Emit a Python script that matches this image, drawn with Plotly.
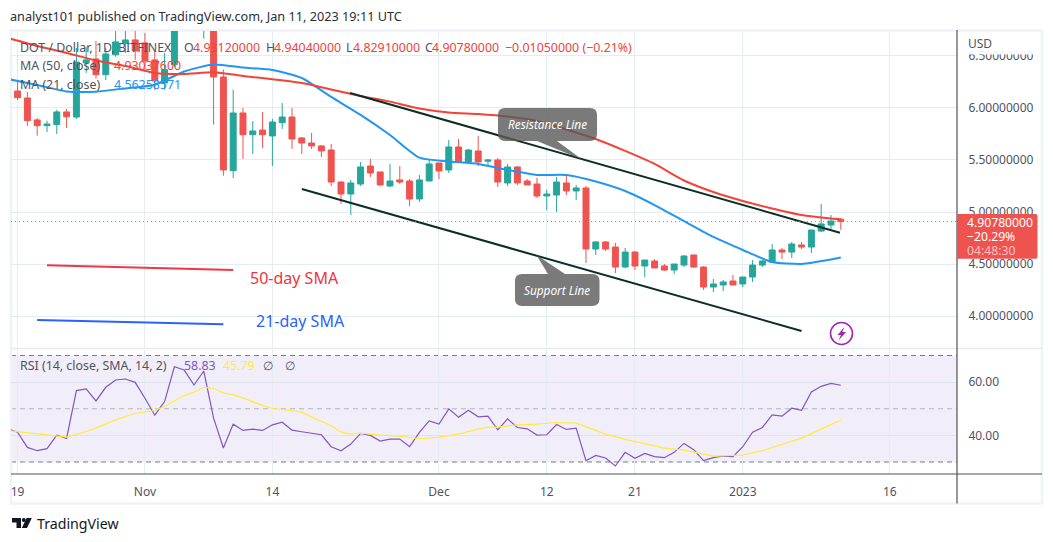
import pandas as pd
import plotly.graph_objects as go

W, H = 1053, 542

# ---- data -------------------------------------------------------------
DATES = pd.date_range("2022-10-18", periods=86)
CANDLE_DATES = DATES[1:]

OPEN = [6.163,6.096,5.885,5.830,5.840,5.962,5.913,6.433,6.471,6.320,6.512,6.625,6.654,6.625,6.462,6.240,6.416,
        6.90,7.05,6.95,7.00,6.298,5.397,5.952,5.743,5.788,5.731,5.859,5.913,5.712,5.663,5.635,5.596,5.288,5.173,
        5.269,5.442,5.385,5.25,5.308,5.298,5.125,5.298,5.471,5.404,5.625,5.481,5.587,5.488,5.5,5.279,5.433,5.298,
        5.269,5.154,5.163,5.279,5.202,5.231,4.644,4.712,4.663,4.471,4.615,4.481,4.529,4.481,4.442,4.49,4.587,4.471,
        4.279,4.298,4.337,4.308,4.375,4.49,4.519,4.635,4.615,4.683,4.663,4.817,4.875,4.9312]
HIGH = [6.260,6.154,5.904,5.878,5.983,5.990,6.577,6.587,6.644,6.577,6.80,6.80,6.80,6.721,6.548,6.529,7.0,
        7.10,7.25,7.30,7.20,6.368,6.176,6.0,5.875,5.962,5.894,6.048,6.0,5.721,5.760,5.644,5.654,5.298,5.308,
        5.481,5.510,5.385,5.462,5.442,5.317,5.356,5.510,5.471,5.692,5.702,5.606,5.731,5.510,5.519,5.462,5.442,5.317,
        5.327,5.212,5.337,5.356,5.26,5.25,4.721,4.721,4.702,4.654,4.625,4.538,4.548,4.5,4.5,4.587,4.587,4.481,
        4.356,4.346,4.394,4.375,4.538,4.538,4.692,4.654,4.712,4.712,4.827,5.077,4.971,4.9404]
LOW = [6.077,5.827,5.734,5.769,5.75,5.808,5.894,6.337,6.282,6.269,6.493,6.529,6.462,6.356,6.173,6.176,6.394,
       6.80,6.85,6.666,5.840,5.349,5.327,5.510,5.558,5.615,5.442,5.798,5.606,5.558,5.606,5.529,5.25,5.077,4.971,
       5.25,5.337,5.25,5.24,5.269,5.058,5.096,5.298,5.317,5.375,5.481,5.481,5.442,5.442,5.24,5.25,5.26,5.26,
       5.135,5.019,5.0,5.163,5.115,4.51,4.587,4.625,4.413,4.462,4.442,4.375,4.462,4.433,4.404,4.471,4.462,4.25,
       4.231,4.24,4.298,4.279,4.327,4.471,4.519,4.548,4.558,4.644,4.606,4.808,4.837,4.8291]
CLOSE = [6.099,5.878,5.830,5.846,5.962,5.916,6.442,6.462,6.320,6.519,6.635,6.654,6.548,6.452,6.260,6.368,6.90,
         7.05,7.00,7.20,6.298,5.404,5.952,5.743,5.779,5.743,5.865,5.913,5.702,5.663,5.635,5.587,5.288,5.173,5.279,
         5.433,5.375,5.26,5.298,5.288,5.125,5.308,5.462,5.394,5.625,5.481,5.596,5.481,5.5,5.288,5.433,5.279,5.26,
         5.154,5.173,5.288,5.202,5.231,4.644,4.712,4.644,4.471,4.615,4.481,4.538,4.462,4.442,4.5,4.577,4.471,4.279,
         4.308,4.327,4.298,4.375,4.49,4.529,4.635,4.615,4.692,4.663,4.827,4.885,4.913,4.9078]

MA_DATES = list(DATES[::3]) + [DATES[-1]]
MA50 = [6.673,6.596,6.529,6.457,6.404,6.337,6.327,6.343,6.308,6.276,6.240,6.178,6.115,6.061,5.995,5.957,5.942,
        5.918,5.875,5.793,5.702,5.587,5.462,5.303,5.192,5.106,5.034,4.971,4.938,4.9304]
MA21 = [6.279,6.221,6.159,6.157,6.188,6.224,6.351,6.418,6.389,6.365,6.288,6.106,5.933,5.740,5.522,5.486,5.462,
        5.404,5.356,5.356,5.293,5.202,5.067,4.913,4.76,4.635,4.519,4.5,4.543,4.5626]

RSI = [42.47,41.22,35.49,34.24,34.99,40.10,38.85,56.81,57.43,52.94,58.06,60.80,61.18,59.93,53.94,47.58,52.70,
       65.79,64.54,58.93,64.17,46.46,35.24,44.22,41.85,42.35,41.85,43.97,44.96,41.97,41.35,40.85,40.23,35.74,34.24,
       36.73,40.72,39.98,37.86,38.60,38.60,35.74,41.10,45.46,44.22,49.95,46.83,49.45,46.96,47.21,42.10,46.21,42.97,
       42.47,40.10,40.23,44.09,42.22,42.72,30.50,32.49,31.50,28.50,33.62,31.37,33.24,32.00,31.62,33.62,36.98,34.61,
       30.50,31.62,32.24,32.00,35.74,41.22,42.97,47.71,47.21,50.20,49.45,56.31,58.43,59.55,58.83]
RSI_SMA_DAYS = [0,3,5,6,8,9,11,13,15,16,18,19,20,21,22,23,24,26,27,28,30,31,33,34,35,36,38,40,42,44,46,48,49,50,
                52,54,56,58,61,63,65,67,69,71,72,74,75,77,79,81,83,85]
RSI_SMA = [41.85,40.47,39.73,39.35,41.47,42.72,45.84,48.21,49.33,50.82,54.94,56.19,58.06,57.68,55.94,55.19,54.07,
           51.20,50.20,49.70,48.71,46.96,43.59,41.22,40.47,40.85,40.10,39.73,38.73,39.35,40.47,42.35,43.09,43.09,
           43.97,44.22,44.84,44.59,40.47,38.48,36.98,35.24,34.49,32.99,32.24,32.49,32.62,34.24,36.48,38.98,42.35,45.79]

RESIST_X = ["2022-11-21 22:00", "2023-01-10 22:00"]
RESIST_Y = [6.144, 4.801]
SUPPORT_X = ["2022-11-17 00:00", "2023-01-07 00:00"]
SUPPORT_Y = [5.221, 3.856]
SMA50_KEY_X = ["2022-10-22 00:00", "2022-11-10 00:00"]
SMA50_KEY_Y = [4.4875, 4.442]
SMA21_KEY_X = ["2022-10-21 00:00", "2022-11-09 00:00"]
SMA21_KEY_Y = [3.962, 3.920]

TICK_DATES = ["2022-10-19", "2022-11-01", "2022-11-14", "2022-12-01", "2022-12-12", "2022-12-21", "2023-01-01", "2023-01-16"]
TICK_TEXT = ["19", "Nov", "14", "Dec", "12", "21", "2023", "16"]
PRICE_TICKS = [4.0, 4.5, 5.0, 5.5, 6.0, 6.5]
RSI_TICKS = [40, 60]
LAST_PRICE = 4.9078

# ---- style ------------------------------------------------------------
FONT = "Noto Sans"
GREEN, RED = "#26a69a", "#ef5350"
GRID = "#e6ecf3"
TXT = "#50535e"
AXIS = "#50535e"
LINE_DARK = "#0b2f26"

def px(x): return x / W
def py(y): return 1 - y / H

def path(cmds):
    out = []
    for c in cmds:
        if c == "Z":
            out.append("Z")
        else:
            op, *pts = c
            out.append(op + " ".join(f"{px(pts[i]):.5f},{py(pts[i+1]):.5f}" for i in range(0, len(pts), 2)))
    return " ".join(out)

fig = go.Figure()

# candles, moving averages, drawings
fig.add_trace(go.Candlestick(
    x=CANDLE_DATES, open=OPEN, high=HIGH, low=LOW, close=CLOSE,
    increasing=dict(line=dict(color=GREEN, width=1), fillcolor=GREEN),
    decreasing=dict(line=dict(color=RED, width=1), fillcolor=RED),
    whiskerwidth=0, xaxis="x", yaxis="y", showlegend=False))
fig.add_trace(go.Scatter(x=MA_DATES, y=MA21, mode="lines", line=dict(color="#2196f3", width=2, shape="spline", smoothing=0.6),
                         xaxis="x", yaxis="y", showlegend=False))
fig.add_trace(go.Scatter(x=MA_DATES, y=MA50, mode="lines", line=dict(color="#f44336", width=2, shape="spline", smoothing=0.6),
                         xaxis="x", yaxis="y", showlegend=False))
for xs, ys, col in [(RESIST_X, RESIST_Y, LINE_DARK), (SUPPORT_X, SUPPORT_Y, LINE_DARK),
                    (SMA50_KEY_X, SMA50_KEY_Y, "#f23645"), (SMA21_KEY_X, SMA21_KEY_Y, "#2962ff")]:
    fig.add_trace(go.Scatter(x=xs, y=ys, mode="lines", line=dict(color=col, width=2), xaxis="x", yaxis="y", showlegend=False))

# RSI pane
fig.add_trace(go.Scatter(x=DATES, y=RSI, mode="lines", line=dict(color="#7e57c2", width=1.2),
                         xaxis="x2", yaxis="y2", showlegend=False))
fig.add_trace(go.Scatter(x=[DATES[i] for i in RSI_SMA_DAYS], y=RSI_SMA, mode="lines", line=dict(color="#ffeb3b", width=1.2),
                         xaxis="x2", yaxis="y2", showlegend=False))

X_RANGE = ["2022-10-18 07:51", "2023-01-22 20:38"]
X_DOM = [px(11), px(957)]

shapes = [
    dict(type="rect", xref="x2 domain", yref="y2", x0=0, x1=1, y0=30, y1=70, fillcolor="rgba(126,87,194,0.10)", line_width=0, layer="below"),
    dict(type="line", xref="x2 domain", yref="y2", x0=0, x1=1, y0=70, y1=70, line=dict(color="#787b86", width=1, dash="5px,4px"), layer="below"),
    dict(type="line", xref="x2 domain", yref="y2", x0=0, x1=1, y0=50, y1=50, line=dict(color="#b2b4bb", width=1, dash="5px,4px"), layer="below"),
    dict(type="line", xref="x2 domain", yref="y2", x0=0, x1=1, y0=30, y1=30, line=dict(color="#787b86", width=1, dash="5px,4px"), layer="below"),
    dict(type="line", xref="x domain", yref="y", x0=0, x1=1, y0=LAST_PRICE, y1=LAST_PRICE, line=dict(color="#f5626a", width=1, dash="1px,3px"), layer="above"),
    # frame and axis lines
    dict(type="rect", xref="paper", yref="paper", x0=px(11), x1=px(1042), y0=py(30.5), y1=py(503.5), line=dict(color="#eff2f8", width=2.5), layer="below"),
    dict(type="line", xref="paper", yref="paper", x0=px(11), x1=px(1042), y0=py(348.5), y1=py(348.5), line=dict(color="#e6e9ef", width=1.5), layer="below"),
    dict(type="line", xref="paper", yref="paper", x0=px(11), x1=px(1042), y0=py(474), y1=py(474), line=dict(color=AXIS, width=1.2), layer="above"),
    dict(type="line", xref="paper", yref="paper", x0=px(957), x1=px(957), y0=py(30), y1=py(503.5), line=dict(color=AXIS, width=1.2), layer="above"),
    # hide the top of the 6.5 label under the USD header
    dict(type="rect", xref="paper", yref="paper", x0=px(958), x1=px(1040), y0=py(32), y1=py(54.5), fillcolor="rgba(255,255,255,0.9)", line_width=0, layer="above"),
    # last price tag
    dict(type="path", xref="paper", yref="paper", layer="above", fillcolor=RED, line_width=0,
         path=path([("M", 957, 214), ("L", 1035.5, 214), ("Q", 1037.5, 214, 1037.5, 216), ("L", 1037.5, 256.7),
                    ("Q", 1037.5, 258.7, 1035.5, 258.7), ("L", 957, 258.7), "Z"])),
    # call-outs
    dict(type="path", xref="paper", yref="paper", layer="above", fillcolor="rgba(89,89,89,0.8)", line_width=0,
         path=path([("M", 505, 108), ("L", 590, 108), ("Q", 597, 108, 597, 115), ("L", 597, 134), ("Q", 597, 141, 590, 141),
                    ("L", 557, 141), ("L", 582, 159.5), ("L", 537, 141), ("L", 505, 141), ("Q", 498, 141, 498, 134),
                    ("L", 498, 115), ("Q", 498, 108, 505, 108), "Z"])),
    dict(type="path", xref="paper", yref="paper", layer="above", fillcolor="rgba(89,89,89,0.8)", line_width=0,
         path=path([("M", 522, 274), ("L", 548, 274), ("L", 536.5, 255), ("L", 565, 274), ("L", 592, 274), ("Q", 599.5, 274, 599.5, 281),
                    ("L", 599.5, 299), ("Q", 599.5, 306, 592, 306), ("L", 522, 306), ("Q", 515, 306, 515, 299),
                    ("L", 515, 281), ("Q", 515, 274, 522, 274), "Z"])),
    # bolt badge
    dict(type="circle", xref="paper", yref="paper", x0=px(830.5), x1=px(852.5), y0=py(322.5), y1=py(344.5), line=dict(color="#9c27b0", width=1.6), layer="above"),
    dict(type="path", xref="paper", yref="paper", layer="above", fillcolor="#9c27b0", line_width=0,
         path=path([("M", 844.5, 327), ("L", 837.5, 335), ("L", 841, 335), ("L", 838.5, 340.5), ("L", 846, 332), ("L", 842.3, 332), "Z"])),
    # TradingView mark
    dict(type="path", xref="paper", yref="paper", layer="above", fillcolor="#131722", line_width=0,
         path=path([("M", 12, 518), ("L", 21, 518), ("L", 21, 528), ("L", 16.5, 528), ("L", 16.5, 522.5), ("L", 12, 522.5), "Z"])),
    dict(type="circle", xref="paper", yref="paper", x0=px(21.8), x1=px(25.8), y0=py(518), y1=py(522), fillcolor="#131722", line_width=0, layer="above"),
    dict(type="path", xref="paper", yref="paper", layer="above", fillcolor="#131722", line_width=0,
         path=path([("M", 31.8, 518), ("L", 27, 528), ("L", 21.8, 528), ("L", 26.6, 518), "Z"])),
]

def note(x, y, text, color=TXT, size=12.4, anchor="left", italic=False):
    t = f"<i>{text}</i>" if italic else text
    return dict(xref="paper", yref="paper", x=px(x), y=py(y), text=t, showarrow=False, xanchor=anchor, yanchor="middle",
                xshift=0, align="left", font=dict(family=FONT, size=size, color=color), borderpad=0, borderwidth=0)

VAL = "#f23f3a"
annotations = [
    note(10, 16.5, "analyst101 published on TradingView.com, Jan 11, 2023 19:11 UTC", "#2a2e39", 12.7),
    note(20, 47, "DOT / Dollar, 1D, BITFINEX"),
    note(184, 47, "O"), note(193, 47, "4.93120000", VAL),
    note(266, 47, "H"), note(274, 47, "4.94040000", VAL),
    note(346, 47, "L"), note(353, 47, "4.82910000", VAL),
    note(425, 47, "C"), note(432, 47, "4.90780000", VAL),
    note(505, 47, "\u22120.01050000 (\u22120.21%)", VAL),
    note(20, 65.7, "MA (50, close)"), note(114, 65.7, "4.93037600", VAL),
    note(20, 84.7, "MA (21, close)"), note(114, 84.7, "4.56258571", "#2196f3"),
    note(20, 365.7, "RSI (14, close, SMA, 14, 2)"),
    note(184, 365.7, "58.83", "#7e57c2"), note(223, 365.7, "45.79", "#ffeb3b"),
    note(263, 365.7, "\u2205"), note(285, 365.7, "\u2205"),
    note(968, 43, "USD", TXT, 12),
    note(967, 222, "4.90780000", "#ffffff", 12.2), note(967, 236.5, "\u221220.29%", "#ffffff", 12.2),
    note(967, 250.5, "04:48:30", "rgba(255,255,255,0.65)", 12.2),
    note(547.5, 124.5, "Resistance Line", "#ffffff", 11.8, "center", True),
    note(557, 290, "Support Line", "#ffffff", 11.8, "center", True),
    note(250, 278, "50-day SMA", "#ef3340", 16),
    note(256, 321, "21-day SMA", "#2962ff", 16),
    note(36.5, 523, "TradingView", "#131722", 14.2),
]

fig.update_layout(
    width=W, height=H, margin=dict(l=0, r=0, t=0, b=0, pad=0),
    paper_bgcolor="#ffffff", plot_bgcolor="#ffffff", hovermode=False,
    boxgap=0.22, boxgroupgap=0.22,
    font=dict(family=FONT, size=12, color=TXT),
    xaxis=dict(domain=X_DOM, range=X_RANGE, anchor="y", type="date", rangeslider=dict(visible=False),
               tickvals=TICK_DATES, ticktext=[""] * len(TICK_DATES), showgrid=True, gridcolor=GRID, gridwidth=1,
               showline=False, zeroline=False, ticks=""),
    xaxis2=dict(domain=X_DOM, range=X_RANGE, anchor="y2", type="date", matches="x",
                tickvals=TICK_DATES, ticktext=TICK_TEXT, showgrid=True, gridcolor=GRID, gridwidth=1,
                showline=False, zeroline=False, ticks="outside", ticklen=7, tickcolor="rgba(0,0,0,0)",
                tickfont=dict(family=FONT, size=12, color=TXT)),
    yaxis=dict(domain=[py(349), py(31)], range=[3.683, 6.740], side="right", anchor="x",
               tickvals=PRICE_TICKS, tickformat=".8f", showgrid=True, gridcolor=GRID, gridwidth=1,
               showline=False, zeroline=False, ticks="outside", ticklen=8, tickcolor="rgba(0,0,0,0)",
               tickfont=dict(family=FONT, size=12, color=TXT)),
    yaxis2=dict(domain=[py(474), py(350)], range=[25.49, 72.07], side="right", anchor="x2",
                tickvals=RSI_TICKS, tickformat=".2f", showgrid=True, gridcolor="#dfe3f0", gridwidth=1,
                showline=False, zeroline=False, ticks="outside", ticklen=8, tickcolor="rgba(0,0,0,0)",
                tickfont=dict(family=FONT, size=12, color=TXT)),
    shapes=shapes, annotations=annotations,
)

fig.write_html("out.html", config={"displayModeBar": False}, post_script="document.body.style.margin='0';")
